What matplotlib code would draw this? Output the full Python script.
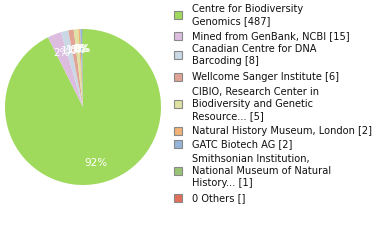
import matplotlib
matplotlib.use("Agg")
import matplotlib.pyplot as plt
from matplotlib.patches import Rectangle

labels = [
    "Centre for Biodiversity\nGenomics [487]",
    "Mined from GenBank, NCBI [15]",
    "Canadian Centre for DNA\nBarcoding [8]",
    "Wellcome Sanger Institute [6]",
    "CIBIO, Research Center in\nBiodiversity and Genetic\nResource... [5]",
    "Natural History Museum, London [2]",
    "GATC Biotech AG [2]",
    "Smithsonian Institution,\nNational Museum of Natural\nHistory... [1]",
    "0 Others []",
]
counts = [487, 15, 8, 6, 5, 2, 2, 1]
colors = ["#a0da5c", "#dcbde0", "#c9d8e4", "#e0a394", "#dfe2a2",
          "#f0b276", "#94b4da", "#98c473", "#e0705a"]

W, H = 380, 240
fig = plt.figure(figsize=(W / 100, H / 100), dpi=100)

cx, cy, r = 83, 107, 78
ax = fig.add_axes([(cx - r) / W, (H - cy - r) / H, 2 * r / W, 2 * r / H])
ax.pie(counts, colors=colors[:len(counts)], startangle=90, counterclock=False,
       autopct=lambda p: f"{int(p)}%", pctdistance=0.74,
       textprops=dict(color="white", fontsize=7.5), wedgeprops=dict(linewidth=0))
ax.set_aspect("equal")
ax.set_xlim(-1, 1)
ax.set_ylim(-1, 1)
ax.axis("off")

# legend drawn by hand: first text line y in pixels from top
text_y = [9, 36, 49, 77, 92, 131, 144, 159, 198]
line_h = 12
for lab, col, ty in zip(labels, colors, text_y):
    n = lab.count("\n") + 1
    sy = ty + (n - 1) * line_h / 2
    fig.patches.append(Rectangle((174 / W, (H - sy - 4) / H), 8 / W, 8 / H,
                                 transform=fig.transFigure, facecolor=col,
                                 edgecolor="#888888", linewidth=0.8))
    for i, line in enumerate(lab.split("\n")):
        fig.text(192 / W, (H - ty - i * line_h) / H, line, fontsize=7.1,
                 color="#111111", va="center", ha="left")

fig.savefig("out.png", dpi=100)
